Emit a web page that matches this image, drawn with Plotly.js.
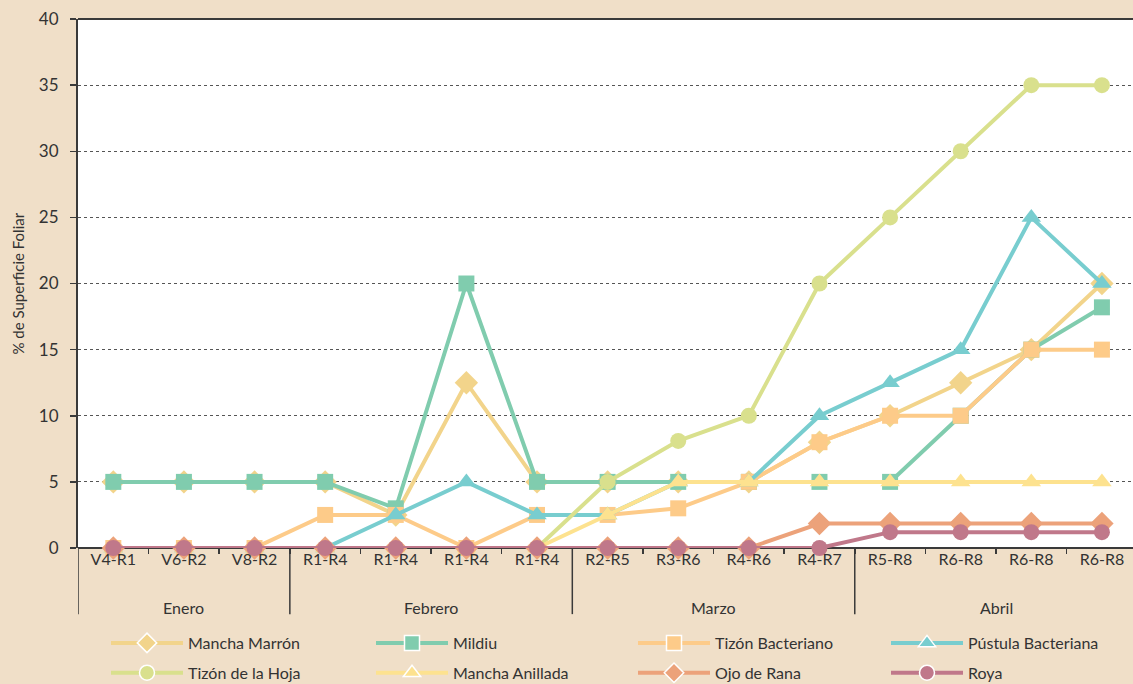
<!DOCTYPE html>
<html><head><meta charset="utf-8">
<script src="https://cdn.plot.ly/plotly-3.0.1.min.js"></script>
<style>html,body{margin:0;padding:0;background:#f0dfc8;}#chart{width:1133px;height:684px;}</style>
</head><body><div id="chart"></div>
<script>
const stages = ["V4-R1","V6-R2","V8-R2","R1-R4","R1-R4","R1-R4","R1-R4","R2-R5","R3-R6","R4-R6","R4-R7","R5-R8","R6-R8","R6-R8","R6-R8"];
const months = ["Enero","Febrero","Marzo","Abril"];
const monthCounts = [3,4,4,4];

const manchaMarron   = [5,5,5,5,2.5,12.5,5,5,5,5,8,10,12.5,15,20];
const mildiu         = [5,5,5,5,3,20,5,5,5,5,5,5,10,15,18.2];
const tizonBact      = [0,0,0,2.5,2.5,0,2.5,2.5,3,5,8,10,10,15,15];
const pustula        = [0,0,0,0,2.5,5,2.5,2.5,5,5,10,12.5,15,25,20];
const tizonHoja      = [0,0,0,0,0,0,0,5,8.1,10,20,25,30,35,35];
const manchaAnillada = [0,0,0,0,0,0,0,2.5,5,5,5,5,5,5,5];
const ojoRana        = [0,0,0,0,0,0,0,0,0,0,1.85,1.85,1.85,1.85,1.85];
const roya           = [0,0,0,0,0,0,0,0,0,0,0,1.2,1.2,1.2,1.2];

// draw order (bottom to top); legend column given by col
const series = [
  {name:"Mancha Marrón", y:manchaMarron, color:"#f2d48b", symbol:"diamond", size:18, col:1, row:0},
  {name:"Mildiu", y:mildiu, color:"#80ccae", symbol:"square", size:16, col:2, row:0},
  {name:"Tizón Bacteriano", y:tizonBact, color:"#fdcb89", symbol:"square", size:16, col:3, row:0},
  {name:"Pústula Bacteriana", y:pustula, color:"#78cdcf", symbol:"triangle-up", size:17, col:4, row:0},
  {name:"Tizón de la Hoja", y:tizonHoja, color:"#d9e08d", symbol:"circle", size:16, col:1, row:1},
  {name:"Mancha Anillada", y:manchaAnillada, color:"#fde28f", symbol:"triangle-up", size:17, col:2, row:1},
  {name:"Ojo de Rana", y:ojoRana, color:"#eca27a", symbol:"diamond", size:18, col:3, row:1},
  {name:"Roya", y:roya, color:"#c0788a", symbol:"circle", size:16, col:4, row:1}
];

const xs = stages.map((s,i)=>i);
const traces = [];
series.forEach(s=>{
  traces.push({x:xs, y:s.y, type:"scatter", mode:"lines+markers", name:s.name, showlegend:false,
    line:{color:s.color, width:4}, marker:{color:s.color, symbol:s.symbol, size:s.size}, cliponaxis:false, hoverinfo:"skip"});
});
series.forEach(s=>{
  traces.push({x:[null], y:[null], type:"scatter", mode:"lines+markers", name:s.name, showlegend:true,
    legend: s.col===1 ? "legend" : "legend"+s.col, legendgroup:"g"+s.row, legendrank:s.row+1,
    line:{color:s.color, width:4}, marker:{color:s.color, symbol:s.symbol, size:15, line:{color:"#ffffff", width:1.5}}});
});

const shapes = [];
const annotations = [];
let start = 0;
monthCounts.forEach((c,i)=>{
  const x0 = start - 0.5;
  shapes.push({type:"line", xref:"x", yref:"paper", x0:x0, x1:x0, y0:0, y1:-0.125, line:{color:"#3a3a3a", width:1.5}});
  annotations.push({xref:"x", yref:"paper", x:start + (c-1)/2, y:-0.113, text:months[i], showarrow:false,
    yanchor:"middle", font:{size:16, color:"#333333"}});
  start += c;
});
shapes.push({type:"line", xref:"paper", yref:"paper", x0:0, x1:1, y0:1, y1:1, line:{color:"#3a3a3a", width:2}});
annotations.push({xref:"paper", yref:"paper", x:-61/1055, y:0.5, xanchor:"center", yanchor:"middle",
  text:"% de Superficie Foliar", textangle:-90, showarrow:false, font:{size:15, color:"#333333"}});

const minorVals = [];
for (let i=0;i<stages.length;i++){ minorVals.push(i+0.5); }

function legendAt(xpx){
  return {orientation:"v", xref:"container", yref:"container", x:xpx/1133, y:(684-626)/684, xanchor:"left", yanchor:"top",
    itemwidth:72, bgcolor:"rgba(0,0,0,0)", font:{size:16, color:"#333333"}, tracegroupgap:6, traceorder:"grouped"};
}

const layout = {
  width:1133, height:684,
  paper_bgcolor:"#f0dfc8", plot_bgcolor:"#ffffff",
  margin:{l:78, r:0, t:19, b:136, autoexpand:false},
  font:{family:"Lato, 'Noto Sans', sans-serif", size:16, color:"#333333"},
  xaxis:{range:[-0.5,14.44], tickvals:xs, ticktext:stages, ticks:"", showgrid:false, zeroline:false,
    showline:false, tickfont:{size:16, color:"#333333"}, fixedrange:true,
    minor:{tickvals:minorVals, ticks:"outside", ticklen:5, tickcolor:"#3a3a3a", tickwidth:1.5, showgrid:false}},
  yaxis:{range:[0,40], dtick:5, tick0:0, ticks:"outside", ticklen:6, tickcolor:"#3a3a3a", tickwidth:1.5,
    ticklabelstandoff:8,
    showline:true, linecolor:"#3a3a3a", linewidth:2, zeroline:true, zerolinecolor:"#3a3a3a", zerolinewidth:2,
    gridcolor:"#555555", griddash:"dot", gridwidth:1, tickfont:{size:17, color:"#333333"}},
  shapes:shapes, annotations:annotations,
  legend:legendAt(106), legend2:legendAt(371), legend3:legendAt(633), legend4:legendAt(886),
  showlegend:true
};

Plotly.newPlot("chart", traces, layout, {displayModeBar:false, staticPlot:true});
</script></body></html>
